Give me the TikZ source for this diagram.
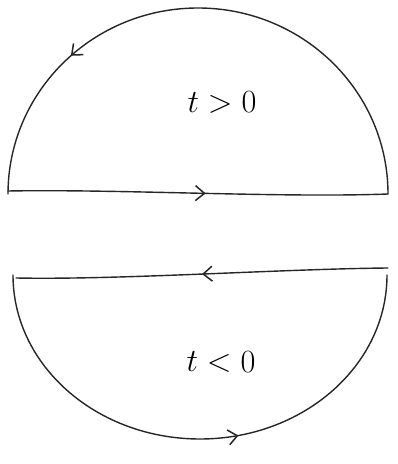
\documentclass[tikz,border=0pt]{standalone}
\usepackage{graphicx}
\usetikzlibrary{arrows.meta,decorations.markings}
\begin{document}
\begin{tikzpicture}[x=1pt,y=1pt,
  curve/.style={line width=1.4pt,draw=black!85,line cap=round},
  arrowat/.style={postaction={decorate},decoration={markings,
     mark=at position #1 with {\arrow{Straight Barb[length=9pt,width=15pt,line width=1.5pt]}}}},
  lbl/.style={font=\Huge,anchor=base,inner sep=0pt}]
\useasboundingbox (0,0) rectangle (397,464);
% upper half-disk contour
\coordinate (uL) at (8,273);
\coordinate (uR) at (388,270);
\draw[curve,arrowat=0.52] (uL) .. controls (120,275) and (280,266) .. (uR);
\draw[curve,arrowat=0.735] (uR) arc[start angle=0,end angle=180,x radius=190,y radius=186];
\node[lbl] (tpos) at (222,351) {\scalebox{1.3}{$t>0$}};
% lower half-disk contour
\coordinate (lR) at (388,196);
\coordinate (lL) at (16,186);
\draw[curve,arrowat=0.5] (lR) .. controls (280,195) and (120,184) .. (lL);
\draw[curve,arrowat=0.57] (13,189) arc[start angle=180,end angle=360,x radius=187,y radius=164];
\node[lbl] (tneg) at (221,92) {\scalebox{1.3}{$t<0$}};
\end{tikzpicture}
\end{document}
